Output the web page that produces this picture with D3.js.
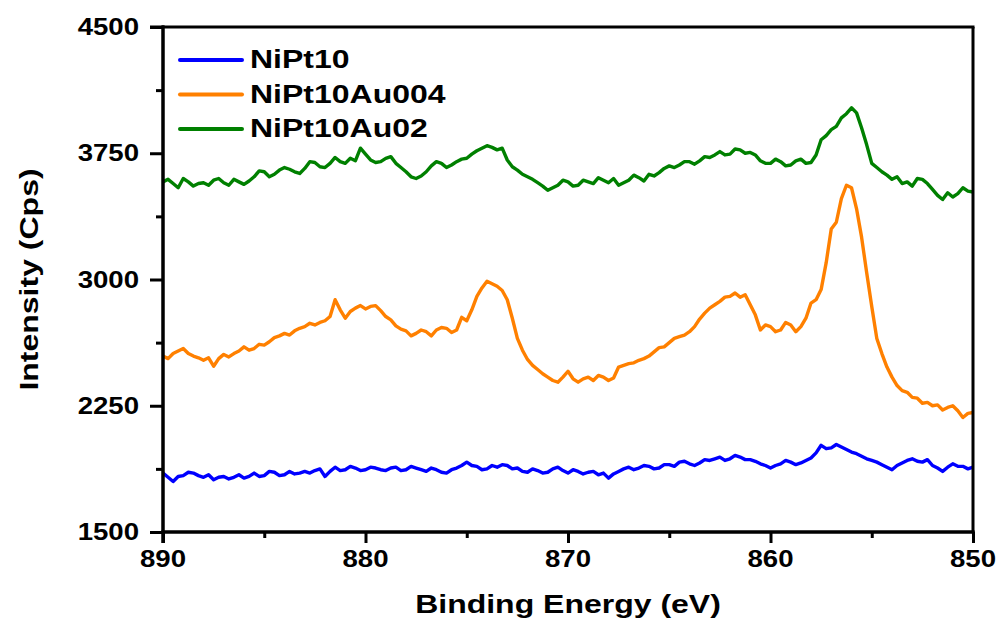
<!DOCTYPE html>
<html>
<head>
<meta charset="utf-8">
<script src="https://cdn.jsdelivr.net/npm/d3@7"></script>
<style>
  html, body { margin: 0; padding: 0; background: #fff; }
  svg { display: block; }
  text { font-family: "Liberation Sans", Arial, sans-serif; font-weight: bold; fill: #000; }
</style>
</head>
<body>
<svg id="chart" width="998" height="620"></svg>
<script>
// ---- data ----
const energy = [890.00,889.75,889.50,889.25,889.00,888.75,888.50,888.25,888.00,887.75,887.50,887.25,887.00,886.75,886.50,886.25,886.00,885.75,885.50,885.25,885.00,884.75,884.50,884.25,884.00,883.75,883.50,883.25,883.00,882.75,882.50,882.25,882.00,881.75,881.50,881.25,881.00,880.75,880.50,880.25,880.00,879.75,879.50,879.25,879.00,878.75,878.50,878.25,878.00,877.75,877.50,877.25,877.00,876.75,876.50,876.25,876.00,875.75,875.50,875.25,875.00,874.75,874.50,874.25,874.00,873.75,873.50,873.25,873.00,872.75,872.50,872.25,872.00,871.75,871.50,871.25,871.00,870.75,870.50,870.25,870.00,869.75,869.50,869.25,869.00,868.75,868.50,868.25,868.00,867.75,867.50,867.25,867.00,866.75,866.50,866.25,866.00,865.75,865.50,865.25,865.00,864.75,864.50,864.25,864.00,863.75,863.50,863.25,863.00,862.75,862.50,862.25,862.00,861.75,861.50,861.25,861.00,860.75,860.50,860.25,860.00,859.75,859.50,859.25,859.00,858.75,858.50,858.25,858.00,857.75,857.50,857.25,857.00,856.75,856.50,856.25,856.00,855.75,855.50,855.25,855.00,854.75,854.50,854.25,854.00,853.75,853.50,853.25,853.00,852.75,852.50,852.25,852.00,851.75,851.50,851.25,851.00,850.75,850.50,850.25,850.00];

const seriesNames = ["NiPt10", "NiPt10Au004", "NiPt10Au02"];
const seriesColors = ["#0000ff", "#ff8000", "#008000"];

const niPt10 = [1850,1825,1800,1830,1835,1855,1850,1835,1825,1840,1810,1825,1830,1815,1825,1840,1820,1830,1850,1830,1835,1860,1855,1835,1840,1860,1845,1850,1860,1850,1865,1875,1830,1860,1885,1865,1870,1890,1880,1865,1870,1885,1880,1870,1865,1880,1885,1865,1870,1890,1880,1870,1860,1880,1870,1855,1850,1870,1880,1895,1915,1895,1890,1870,1875,1895,1885,1900,1895,1875,1880,1860,1855,1875,1865,1850,1855,1875,1885,1865,1850,1870,1860,1845,1855,1860,1840,1850,1820,1845,1860,1875,1885,1870,1880,1895,1890,1875,1880,1900,1900,1890,1915,1920,1905,1895,1910,1930,1925,1935,1945,1925,1935,1955,1945,1930,1930,1920,1905,1895,1880,1895,1905,1925,1915,1900,1910,1925,1940,1970,2015,1995,2000,2020,2005,1990,1975,1965,1950,1935,1925,1915,1900,1885,1870,1895,1910,1925,1935,1920,1915,1930,1895,1880,1860,1885,1905,1890,1890,1875,1885];

const niPt10Au004 = [2545,2530,2560,2575,2590,2560,2545,2535,2520,2535,2485,2530,2555,2540,2560,2575,2600,2580,2590,2615,2610,2630,2655,2665,2680,2670,2695,2710,2720,2740,2730,2745,2755,2780,2880,2820,2770,2810,2830,2845,2825,2840,2845,2815,2780,2760,2725,2705,2695,2665,2680,2700,2690,2665,2700,2715,2710,2685,2700,2775,2755,2820,2900,2950,2990,2975,2960,2935,2880,2770,2650,2580,2525,2490,2465,2440,2420,2400,2390,2420,2455,2410,2390,2410,2420,2400,2430,2420,2400,2415,2480,2490,2500,2505,2520,2530,2545,2570,2595,2600,2625,2650,2660,2670,2690,2720,2765,2800,2830,2850,2870,2895,2900,2920,2895,2910,2850,2790,2700,2730,2720,2690,2700,2745,2730,2690,2720,2770,2860,2880,2940,3100,3300,3340,3480,3560,3545,3420,3250,3040,2840,2650,2560,2480,2420,2370,2340,2330,2300,2295,2265,2270,2250,2255,2225,2240,2250,2220,2180,2205,2210];

const niPt10Au02 = [3580,3595,3570,3545,3600,3580,3555,3570,3575,3560,3590,3600,3575,3560,3595,3580,3565,3585,3610,3645,3640,3610,3625,3650,3665,3655,3640,3630,3660,3700,3695,3670,3665,3690,3725,3700,3690,3720,3705,3780,3745,3710,3695,3700,3720,3730,3690,3665,3640,3610,3600,3615,3640,3675,3700,3690,3665,3680,3700,3715,3720,3745,3765,3780,3795,3785,3770,3780,3710,3670,3650,3625,3610,3595,3575,3555,3530,3545,3560,3590,3580,3555,3560,3590,3580,3570,3605,3590,3575,3600,3560,3575,3590,3620,3605,3585,3625,3615,3635,3660,3675,3665,3680,3700,3700,3685,3705,3730,3725,3740,3760,3740,3745,3775,3770,3750,3755,3740,3705,3690,3690,3715,3700,3675,3680,3705,3715,3690,3695,3740,3830,3855,3890,3910,3960,3985,4020,3990,3900,3800,3690,3665,3640,3620,3595,3610,3570,3580,3555,3600,3595,3570,3535,3500,3475,3515,3490,3510,3545,3525,3520];

const xTicks = [890, 880, 870, 860, 850];
const xMinorTicks = [885, 875, 865, 855];
const yTicks = [1500, 2250, 3000, 3750, 4500];
const yMinorTicks = [1875, 2625, 3375, 4125];

const xTitle = "Binding Energy (eV)";
const yTitle = "Intensity (Cps)";

// ---- layout ----
const W = 998, H = 620;
const margin = { left: 163, right: 25, top: 27, bottom: 88 };
const svg = d3.select("#chart");

const x = d3.scaleLinear().domain([890, 850]).range([margin.left, W - margin.right]);
const y = d3.scaleLinear().domain([1500, 4500]).range([H - margin.bottom, margin.top]);

const series = [niPt10, niPt10Au004, niPt10Au02];

// lines
const line = d3.line().x((d, i) => x(energy[i])).y(d => y(d));
series.forEach((s, k) => {
  svg.append("path")
    .datum(s)
    .attr("fill", "none")
    .attr("stroke", seriesColors[k])
    .attr("stroke-width", 3.4)
    .attr("stroke-linejoin", "round")
    .attr("d", line);
});

// helper for horizontally stretched text
function stretchedText(g, tx, ty, str, size, sx, anchor, extra) {
  return g.append("text")
    .attr("transform", `translate(${tx},${ty}) ${extra || ""} scale(${sx},1)`)
    .attr("text-anchor", anchor)
    .style("font-size", size + "px")
    .text(str);
}

const axisW = 3;
// frame: top and right
svg.append("line")
  .attr("x1", margin.left - 13).attr("x2", W - margin.right + axisW / 2)
  .attr("y1", y(4500)).attr("y2", y(4500))
  .attr("stroke", "#000").attr("stroke-width", axisW);
svg.append("line")
  .attr("x1", W - margin.right).attr("x2", W - margin.right)
  .attr("y1", y(4500)).attr("y2", y(1500))
  .attr("stroke", "#000").attr("stroke-width", axisW);

// bottom axis
const xAxisG = svg.append("g").attr("transform", `translate(0,${y(1500)})`);
xAxisG.call(d3.axisBottom(x).tickValues(xTicks).tickSize(11).tickFormat(() => ""));
xAxisG.append("g").call(d3.axisBottom(x).tickValues(xMinorTicks).tickSize(6).tickFormat(() => ""));
xAxisG.selectAll("path.domain").attr("stroke-width", axisW).attr("d", `M${margin.left - 1.5},0H${W - margin.right + 1.5}`);
xAxisG.selectAll(".tick line").attr("stroke-width", axisW);
xTicks.forEach(v => stretchedText(xAxisG, x(v), 35, String(v), 23, 1.2, "middle"));

// left axis
const yAxisG = svg.append("g").attr("transform", `translate(${margin.left},0)`);
yAxisG.call(d3.axisLeft(y).tickValues(yTicks).tickSize(13).tickFormat(() => ""));
yAxisG.append("g").call(d3.axisLeft(y).tickValues(yMinorTicks).tickSize(7).tickFormat(() => ""));
yAxisG.selectAll("path.domain").attr("stroke-width", axisW).attr("d", `M0,${y(4500) - 1.5}V${y(1500) + 11}`);
yAxisG.selectAll(".tick line").attr("stroke-width", axisW);
yTicks.forEach(v => stretchedText(yAxisG, -24, y(v) + 8, String(v), 23, 1.2, "end"));

// axis titles
stretchedText(svg, (x(890) + x(850)) / 2, 613, xTitle, 25, 1.28, "middle");
stretchedText(svg, 38, (y(1500) + y(4500)) / 2, yTitle, 25, 1.28, "middle", "rotate(-90)");

// legend
const legend = svg.append("g");
seriesNames.forEach((name, k) => {
  const ly = 60 + k * 34.5;
  legend.append("line")
    .attr("x1", 180).attr("x2", 242)
    .attr("y1", ly).attr("y2", ly)
    .attr("stroke", seriesColors[k]).attr("stroke-width", 4)
    .attr("stroke-linecap", "round");
  stretchedText(legend, 250, ly + 8, name, 25, 1.28, "start");
});
</script>
</body>
</html>
